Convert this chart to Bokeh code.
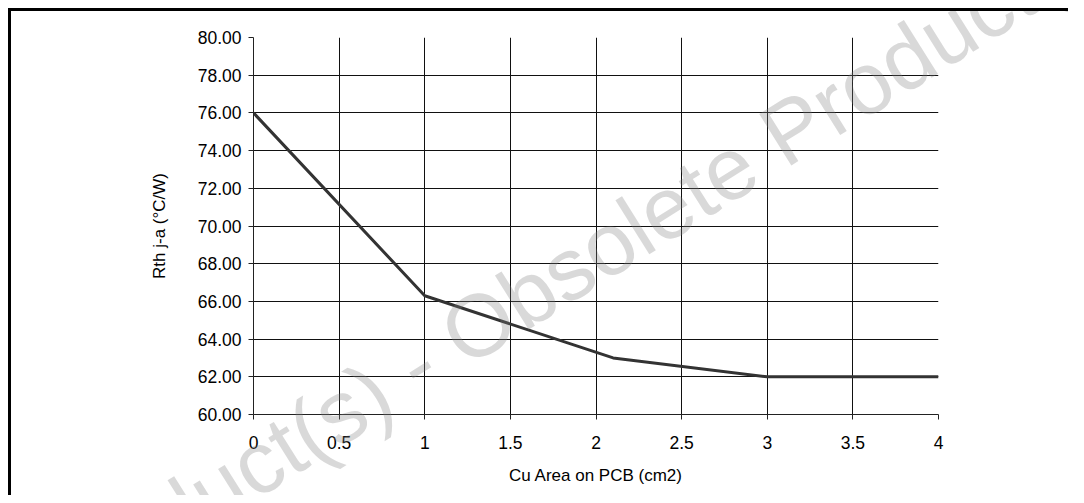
from bokeh.plotting import figure
from bokeh.models import FixedTicker, ColumnDataSource, NumeralTickFormatter, Div
from bokeh.embed import file_html
from bokeh.resources import INLINE

# data
cu_area = [0, 1, 2.1, 3, 4]
rth = [76.0, 66.3, 63.0, 62.0, 62.0]
x_ticks = [0, 0.5, 1, 1.5, 2, 2.5, 3, 3.5, 4]
x_tick_labels = ["0", "0.5", "1", "1.5", "2", "2.5", "3", "3.5", "4"]
y_ticks = [60, 62, 64, 66, 68, 70, 72, 74, 76, 78, 80]
x_label = "Cu Area on PCB (cm2)"
y_label = "Rth j-a (°C/W)"
watermark = "Obsolete Product(s) - Obsolete Product(s)"

FONT = "Liberation Sans"

p = figure(width=1060, height=487, output_backend="svg", toolbar_location=None,
           x_range=(0, 4), y_range=(60, 80),
           min_border_left=242, min_border_right=133, min_border_top=26, min_border_bottom=84)
p.styles = {"border-top": "3px solid black", "border-left": "3px solid black",
            "margin-top": "8px", "margin-left": "8px",
            "position": "relative", "overflow": "hidden"}
p.outline_line_color = None
p.background_fill_color = "white"

src = ColumnDataSource(dict(x=cu_area, y=rth))
p.line("x", "y", source=src, line_color="#333333", line_width=3)

p.xaxis.ticker = FixedTicker(ticks=x_ticks)
p.xaxis.major_label_overrides = {t: l for t, l in zip(x_ticks, x_tick_labels)}
p.yaxis.ticker = FixedTicker(ticks=y_ticks)
p.yaxis.formatter = NumeralTickFormatter(format="0.00")
p.xgrid.ticker = FixedTicker(ticks=x_ticks)
p.ygrid.ticker = FixedTicker(ticks=y_ticks)

for g in (p.xgrid, p.ygrid):
    g.grid_line_color = "#111111"
    g.grid_line_width = 1
    g.grid_line_alpha = 1

for ax in (p.xaxis, p.yaxis):
    ax.axis_line_color = "#222222"
    ax.major_tick_line_color = "#222222"
    ax.major_tick_in = 0
    ax.major_tick_out = 5
    ax.minor_tick_line_color = None
    ax.major_label_text_font = FONT
    ax.major_label_text_font_size = "17.5px"
    ax.major_label_text_color = "black"
    ax.axis_label_text_font = FONT
    ax.axis_label_text_font_size = "17px"
    ax.axis_label_text_font_style = "normal"
    ax.axis_label_text_color = "black"

p.xaxis.axis_label = x_label
p.yaxis.axis_label = y_label
p.xaxis.major_label_standoff = 16
p.xaxis.axis_label_standoff = 14
p.yaxis.major_label_standoff = 7
p.yaxis.axis_label_standoff = 26

# watermark (HTML overlay so it is not clipped to the plot frame)
wm = Div(text=watermark, width=1700, height=100,
         styles={"position": "absolute", "left": "-416px", "top": "287px",
                 "transform": "rotate(-32deg)", "transform-origin": "850px 58px",
                 "pointer-events": "none", "z-index": "5"},
         stylesheets=[":host { font-family: 'Liberation Sans'; font-size: 88px; "
                      "line-height: 100px; text-align: center; white-space: nowrap; "
                      "color: rgba(128,128,128,0.3); }"])
p.elements = [wm]

open("out.html", "w").write(file_html(p, INLINE))
